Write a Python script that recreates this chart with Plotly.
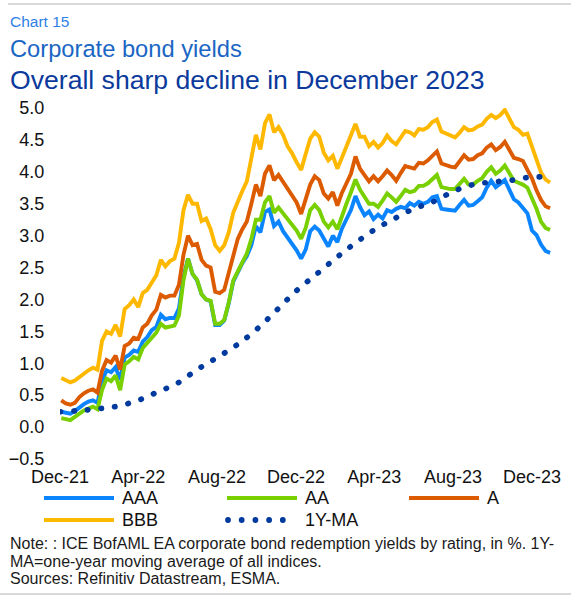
import pandas as pd
import plotly.graph_objects as go

# ---------------- data ----------------
week_start = "2021-12-03"
n_weeks = 109
dates = pd.date_range(week_start, periods=n_weeks, freq="7D")

aaa = [0.24, 0.22, 0.21, 0.25, 0.31, 0.36, 0.40, 0.42, 0.38, 0.72,
       0.89, 0.86, 0.94, 0.74, 1.09, 1.13, 1.20, 1.18, 1.34, 1.41,
       1.52, 1.57, 1.76, 1.69, 1.71, 1.71, 1.86, 2.35, 2.64, 2.40,
       2.30, 2.08, 2.00, 1.97, 1.60, 1.60, 1.67, 1.94, 2.28, 2.43,
       2.57, 2.68, 2.85, 3.15, 3.05, 3.37, 3.41, 3.15, 3.22, 3.07,
       2.97, 2.86, 2.77, 2.64, 2.78, 3.07, 3.14, 3.08, 2.95, 2.83,
       3.00, 2.90, 3.11, 3.24, 3.40, 3.62, 3.45, 3.32, 3.38, 3.26,
       3.33, 3.27, 3.40, 3.37, 3.42, 3.45, 3.43, 3.51, 3.47, 3.53,
       3.50, 3.53, 3.60, 3.62, 3.42, 3.41, 3.40, 3.39, 3.48, 3.56,
       3.47, 3.48, 3.54, 3.60, 3.75, 3.86, 3.76, 3.81, 3.87, 3.72,
       3.57, 3.52, 3.44, 3.35, 3.08, 3.01, 2.86, 2.76, 2.73]

aa = [0.14, 0.12, 0.11, 0.16, 0.22, 0.26, 0.29, 0.32, 0.28, 0.58,
      0.76, 0.72, 0.81, 0.58, 0.98, 1.03, 1.10, 1.06, 1.24, 1.31,
      1.40, 1.48, 1.62, 1.56, 1.58, 1.59, 1.75, 2.30, 2.64, 2.40,
      2.31, 2.08, 2.00, 1.98, 1.62, 1.62, 1.68, 1.95, 2.30, 2.45,
      2.60, 2.72, 2.95, 3.25, 3.25, 3.52, 3.62, 3.36, 3.44, 3.35,
      3.24, 3.15, 3.08, 2.95, 3.12, 3.40, 3.48, 3.40, 3.22, 3.13,
      3.22, 3.10, 3.31, 3.50, 3.68, 3.88, 3.72, 3.61, 3.50, 3.50,
      3.45, 3.55, 3.66, 3.60, 3.53, 3.62, 3.72, 3.68, 3.70, 3.78,
      3.78, 3.82, 3.88, 3.95, 3.76, 3.74, 3.73, 3.73, 3.81, 3.89,
      3.80, 3.80, 3.86, 3.90, 4.00, 4.07, 3.97, 4.02, 4.10, 3.97,
      3.86, 3.83, 3.80, 3.75, 3.60, 3.42, 3.22, 3.12, 3.09]

a = [0.42, 0.37, 0.35, 0.38, 0.47, 0.53, 0.57, 0.59, 0.54, 0.88,
     1.05, 1.01, 1.12, 0.90, 1.27, 1.31, 1.40, 1.38, 1.56, 1.62,
     1.75, 1.84, 2.07, 2.03, 2.06, 2.06, 2.23, 2.70, 3.00, 2.85,
     2.87, 2.62, 2.53, 2.50, 2.12, 2.10, 2.15, 2.40, 2.70, 2.95,
     3.10, 3.22, 3.50, 3.80, 3.62, 3.97, 4.10, 3.87, 3.95, 3.84,
     3.74, 3.64, 3.52, 3.34, 3.55, 3.80, 3.93, 3.87, 3.66, 3.58,
     3.68, 3.47, 3.67, 3.82, 3.97, 4.24, 4.05, 3.95, 3.85, 3.93,
     3.85, 3.93, 4.02, 3.95, 3.86, 3.98, 4.09, 4.07, 4.05, 4.14,
     4.13, 4.18, 4.26, 4.32, 4.13, 4.10, 4.08, 4.07, 4.16, 4.26,
     4.19, 4.20, 4.26, 4.29, 4.38, 4.43, 4.34, 4.39, 4.47, 4.34,
     4.22, 4.20, 4.17, 4.03, 3.90, 3.71, 3.56, 3.46, 3.43]

bbb = [0.77, 0.73, 0.70, 0.73, 0.79, 0.85, 0.89, 0.93, 0.90, 1.35,
       1.50, 1.46, 1.60, 1.42, 1.85, 1.91, 2.00, 1.88, 2.10, 2.15,
       2.27, 2.38, 2.62, 2.52, 2.60, 2.64, 2.89, 3.40, 3.64, 3.50,
       3.50, 3.23, 3.27, 3.10, 2.85, 2.76, 2.85, 3.05, 3.36, 3.55,
       3.70, 3.85, 4.25, 4.58, 4.35, 4.76, 4.90, 4.62, 4.70, 4.58,
       4.40, 4.29, 4.15, 4.03, 4.28, 4.52, 4.62, 4.55, 4.30, 4.18,
       4.25, 4.05, 4.22, 4.40, 4.54, 4.75, 4.55, 4.55, 4.40, 4.47,
       4.38, 4.45, 4.57, 4.48, 4.43, 4.53, 4.64, 4.62, 4.57, 4.67,
       4.66, 4.70, 4.78, 4.82, 4.63, 4.60, 4.57, 4.54, 4.61, 4.70,
       4.65, 4.66, 4.71, 4.74, 4.83, 4.89, 4.84, 4.89, 4.97, 4.84,
       4.70, 4.66, 4.58, 4.60, 4.40, 4.18, 3.99, 3.88, 3.83]

ma_dates = ["2021-12-01", "2022-01-01", "2022-02-01", "2022-03-01", "2022-04-01",
            "2022-05-01", "2022-06-01", "2022-07-01", "2022-08-01", "2022-09-01",
            "2022-10-01", "2022-11-01", "2022-12-01", "2023-01-01", "2023-02-01",
            "2023-03-01", "2023-04-01", "2023-05-01", "2023-06-01", "2023-07-01",
            "2023-08-01", "2023-09-01", "2023-10-01", "2023-11-01", "2023-12-01",
            "2023-12-29"]
ma = [0.24, 0.26, 0.29, 0.33, 0.42, 0.55, 0.69, 0.90, 1.09, 1.29,
      1.53, 1.83, 2.13, 2.39, 2.65, 2.87, 3.09, 3.26, 3.42, 3.53,
      3.69, 3.80, 3.84, 3.87, 3.92, 3.91]

tick_dates = ["2021-12-01", "2022-04-01", "2022-08-01", "2022-12-01",
              "2023-04-01", "2023-08-01", "2023-12-01"]
y_ticks = [-0.5, 0.0, 0.5, 1.0, 1.5, 2.0, 2.5, 3.0, 3.5, 4.0, 4.5, 5.0]

series_names = ["AAA", "AA", "A", "BBB"]
series_values = [aaa, aa, a, bbb]
series_colors = ["#0A85FF", "#78D000", "#DC5A00", "#FFB800"]
ma_name = "1Y-MA"
ma_color = "#003A9E"

# ---------------- layout geometry ----------------
W, H = 571, 597
L, R, T, B = 60, 19, 108, 138
PW, PH = W - L - R, H - T - B
FONT = "Liberation Sans, Arial, sans-serif"


def px(x):
    return (x - L) / PW


def py(y):
    return (H - B - y) / PH


fig = go.Figure()
for name, vals, col in zip(series_names, series_values, series_colors):
    fig.add_trace(go.Scatter(x=dates, y=vals, mode="lines", name=name,
                             line=dict(color=col, width=3.9), showlegend=False,
                             hoverinfo="skip"))
fig.add_trace(go.Scatter(x=ma_dates, y=ma, mode="lines", name=ma_name, uid="ma",
                         line=dict(color=ma_color, width=5.6, dash="0.5px,13.2px",
                                   shape="spline", smoothing=1.0),
                         showlegend=False, hoverinfo="skip"))

shapes = []
annotations = []

# top / bottom separators
shapes.append(dict(type="line", xref="paper", yref="paper", x0=px(8), x1=px(571),
                   y0=py(4), y1=py(4), line=dict(color="#D9D9D9", width=2)))
shapes.append(dict(type="line", xref="paper", yref="paper", x0=px(0), x1=px(571),
                   y0=py(594), y1=py(594), line=dict(color="#D9D9D9", width=2)))

# titles and notes
note_font = dict(size=16, color="#1A1A1A", family=FONT)
annotations += [
    dict(text="Chart 15", x=px(8), y=py(21), font=dict(size=15.5, color="#2F7FE8", family=FONT)),
    dict(text="Corporate bond yields", x=px(8), y=py(49), font=dict(size=23.7, color="#1A66C4", family=FONT)),
    dict(text="Overall sharp decline in December 2023", x=px(8), y=py(80),
         font=dict(size=26.6, color="#0B3A9C", family=FONT)),
    dict(text="Note: : ICE BofAML EA corporate bond redemption yields by rating, in %. 1Y-",
         x=px(9), y=py(543.5), font=note_font, borderpad=0),
    dict(text="MA=one-year moving average of all indices.",
         x=px(9), y=py(561), font=note_font, borderpad=0),
    dict(text="Sources: Refinitiv Datastream, ESMA.",
         x=px(9), y=py(578.5), font=note_font, borderpad=0),
]

# manual legend
legend_rows = [(44, 114, 120, 498), (227, 297, 303, 498), (409, 479, 485, 498),
               (44, 114, 120, 520)]
for (x0, x1, xt, yy), name, col in zip(legend_rows, series_names, series_colors):
    shapes.append(dict(type="line", xref="paper", yref="paper", x0=px(x0), x1=px(x1),
                       y0=py(yy), y1=py(yy), line=dict(color=col, width=4)))
    annotations.append(dict(text=name, x=px(xt), y=py(yy),
                            font=dict(size=18, color="#111111", family=FONT)))
for cx in [228, 241.7, 255.4, 269.1, 282.8]:
    shapes.append(dict(type="circle", xref="paper", yref="paper",
                       xsizemode="pixel", ysizemode="pixel",
                       xanchor=px(cx), yanchor=py(520),
                       x0=-2.9, x1=2.9, y0=-2.9, y1=2.9,
                       fillcolor=ma_color, line=dict(width=0)))
annotations.append(dict(text=ma_name, x=px(303), y=py(520),
                        font=dict(size=18, color="#111111", family=FONT)))

for an in annotations:
    an.update(xref="paper", yref="paper", xanchor="left", yanchor="middle",
              showarrow=False)

fig.update_layout(
    width=W, height=H,
    margin=dict(l=L, r=R, t=T, b=B, pad=0, autoexpand=False),
    paper_bgcolor="white", plot_bgcolor="white",
    font=dict(family=FONT, size=18, color="#111111"),
    shapes=shapes, annotations=annotations,
    showlegend=False,
    xaxis=dict(type="date", range=["2021-12-01", "2024-01-01"], automargin=False,
               tickvals=tick_dates, tickformat="%b-%y",
               ticks="outside", ticklen=1, tickcolor="rgba(0,0,0,0)",
               showgrid=False, zeroline=False, showline=False,
               tickfont=dict(size=18, color="#111111", family=FONT)),
    yaxis=dict(range=[-0.5, 5.0], tickvals=y_ticks, tickformat=".1f", automargin=False,
               ticks="outside", ticklen=11, tickcolor="rgba(0,0,0,0)",
               showgrid=False, zeroline=False, showline=False,
               tickfont=dict(size=18, color="#111111", family=FONT)),
)

post = """
document.body.style.margin = '0';
document.body.style.padding = '0';
var gd = document.getElementById('{plot_id}');
function roundCaps(){
  gd.querySelectorAll('.tracema path.js-line').forEach(function(p){
    p.style.strokeLinecap = 'round';
  });
}
roundCaps();
if (gd.on) { gd.on('plotly_afterplot', roundCaps); }
"""

fig.write_html("out.html", config={"displayModeBar": False}, post_script=post)
